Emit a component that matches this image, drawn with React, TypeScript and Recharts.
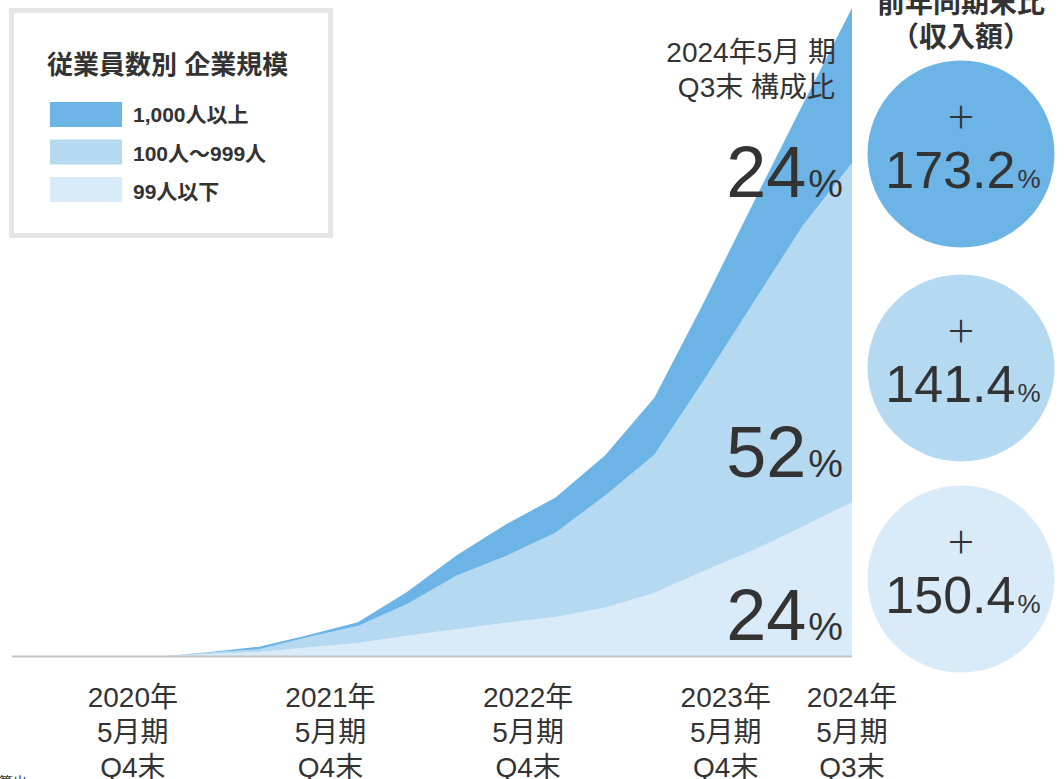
import { Area, AreaChart, XAxis, YAxis } from "recharts";

const FONT = '"Liberation Sans", Arial, "Noto Sans CJK JP", sans-serif';
const TEXT = "#333333";

const quarters = [
  "2020Q2", "2020Q3", "2020Q4",
  "2021Q1", "2021Q2", "2021Q3", "2021Q4",
  "2022Q1", "2022Q2", "2022Q3", "2022Q4",
  "2023Q1", "2023Q2", "2023Q3", "2023Q4",
  "2024Q1", "2024Q2", "2024Q3",
];

// 99人以下 / 100人〜999人 / 1,000人以上 (share units, stacked)
const small = [0, 0, 0, 0, 0.4, 0.7, 1.4, 2.1, 3.2, 4.2, 5.2, 6.1, 7.5, 9.8, 13.2, 16.4, 20.0, 23.8];
const mid = [0, 0, 0, 0, 0.2, 0.4, 1.6, 2.6, 4.9, 8.3, 10.3, 13.0, 17.3, 21.3, 29.4, 38.1, 46.4, 52.3];
const large = [0, 0, 0, 0, 0.1, 0.4, 0.3, 0.6, 1.9, 3.1, 4.9, 5.4, 6.2, 8.8, 12.0, 15.4, 18.7, 23.9];

const tickQuarters = ["2020Q4", "2021Q4", "2022Q4", "2023Q4", "2024Q3"];
const tickYears = ["2020年", "2021年", "2022年", "2023年", "2024年"];
const tickPeriods = ["Q4末", "Q4末", "Q4末", "Q4末", "Q3末"];

const seriesNames = ["1,000人以上", "100人〜999人", "99人以下"];
const growth = [173.2, 141.4, 150.4];

const COLORS = { large: "#6cb3e6", mid: "#b6d9f2", small: "#d9eaf8" };

const data = quarters.map((q, i) => ({ q, small: small[i], mid: mid[i], large: large[i] }));

function QuarterTick(props: any) {
  const { x, y, payload } = props;
  const i = tickQuarters.indexOf(payload.value);
  if (i < 0) return null;
  const dx = i === tickQuarters.length - 1 ? 0 : 22;
  return (
    <g transform={`translate(${x + dx},${y})`}>
      <text textAnchor="middle" fontSize={28} fill={TEXT} fontFamily={FONT}>
        <tspan x={0} y={50.5}>{tickYears[i]}</tspan>
        <tspan x={0} y={85.5}>5月期</tspan>
        <tspan x={0} y={120}>{tickPeriods[i]}</tspan>
      </text>
    </g>
  );
}

function Pct({ x, y, value }: { x: number; y: number; value: number }) {
  return (
    <text x={x} y={y} textAnchor="end" fill={TEXT} fontFamily={FONT}>
      <tspan fontSize={72}>{Math.round(value)}</tspan>
      <tspan fontSize={39} dx={2}>%</tspan>
    </text>
  );
}

export default function App() {
  const last = data[data.length - 1];
  const circleFills = [COLORS.large, COLORS.mid, COLORS.small];
  const circleCy = [154, 368, 579];
  const legendColors = [COLORS.large, COLORS.mid, COLORS.small];

  return (
    <div style={{ position: "absolute", left: 0, top: 0, width: 1064, height: 779, overflow: "hidden", background: "#fff" }}>
      <AreaChart
        width={1064}
        height={779}
        data={data}
        margin={{ top: 8, right: 212, left: 12, bottom: 12.5 }}
      >
        <YAxis hide domain={[0, 100]} allowDataOverflow />
        <XAxis
          dataKey="q"
          ticks={tickQuarters}
          interval={0}
          height={110}
          tickLine={false}
          tickSize={0}
          tickMargin={0}
          axisLine={{ stroke: "#c6c6c6", strokeWidth: 2 }}
          tick={<QuarterTick />}
        />
        <Area type="linear" dataKey="small" stackId="1" stroke="none" fill={COLORS.small} fillOpacity={1} isAnimationActive={false} />
        <Area type="linear" dataKey="mid" stackId="1" stroke="none" fill={COLORS.mid} fillOpacity={1} isAnimationActive={false} />
        <Area type="linear" dataKey="large" stackId="1" stroke="none" fill={COLORS.large} fillOpacity={1} isAnimationActive={false} />
      </AreaChart>

      <svg width={1064} height={779} style={{ position: "absolute", left: 0, top: 0, pointerEvents: "none" }}>
        {/* legend */}
        <rect x={11.5} y={10.5} width={319} height={225} fill="#fff" stroke="#e6e6e6" strokeWidth={5} />
        <text x={47} y={74} fontSize={26} fontWeight="bold" fill={TEXT} fontFamily={FONT}>従業員数別 企業規模</text>
        {seriesNames.map((name, i) => (
          <g key={name}>
            <rect x={50} y={102 + i * 37.5} width={72} height={25} fill={legendColors[i]} />
            <text x={133} y={122 + i * 38.5} fontSize={21} fontWeight="bold" fill={TEXT} fontFamily={FONT}>{name}</text>
          </g>
        ))}

        {/* composition caption */}
        <text x={836} y={62} textAnchor="end" fontSize={28} fill={TEXT} fontFamily={FONT}>2024年5月 期</text>
        <text x={835} y={97} textAnchor="end" fontSize={28} fill={TEXT} fontFamily={FONT}>Q3末 構成比</text>
        <Pct x={843} y={197} value={last.large} />
        <Pct x={843} y={477} value={last.mid} />
        <Pct x={843} y={640} value={last.small} />

        {/* YoY header */}
        <text x={961} y={13} textAnchor="middle" fontSize={28} fontWeight="bold" fill={TEXT} fontFamily={FONT}>前年同期末比</text>
        <text x={961} y={47} textAnchor="middle" fontSize={28} fontWeight="bold" fill={TEXT} fontFamily={FONT}>（収入額）</text>

        {growth.map((g, i) => (
          <g key={i}>
            <circle cx={961} cy={circleCy[i]} r={93.5} fill={circleFills[i]} />
            <text x={961} y={circleCy[i] - 26} textAnchor="middle" fontSize={30} fill={TEXT} fontFamily={FONT}>＋</text>
            <text x={963} y={circleCy[i] + 34} textAnchor="middle" fill={TEXT} fontFamily={FONT}>
              <tspan fontSize={52}>{g.toFixed(1)}</tspan>
              <tspan fontSize={26} dx={2}>%</tspan>
            </text>
          </g>
        ))}

        {/* footnote, clipped by page edge */}
        <text x={27} y={787} textAnchor="end" fontSize={14} fill={TEXT} fontFamily={FONT}>から算出</text>
      </svg>
    </div>
  );
}
